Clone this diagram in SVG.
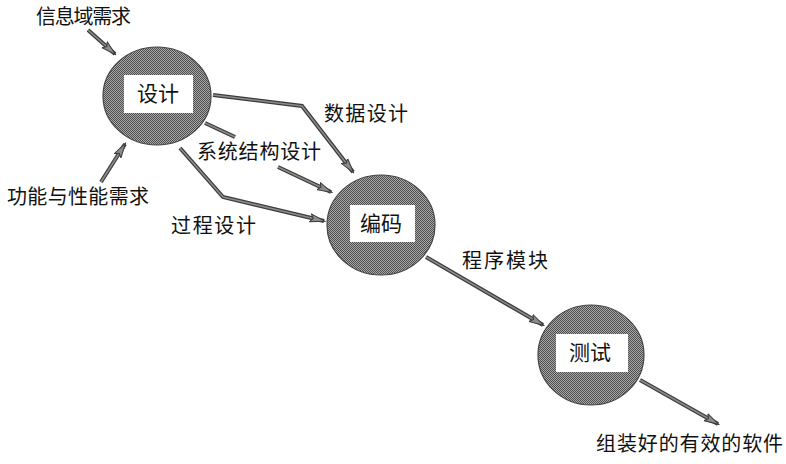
<svg xmlns="http://www.w3.org/2000/svg" width="786" height="464" viewBox="0 0 786 464">
<style>
text{font-family:"Noto Sans CJK SC","Noto Sans CJK TC",sans-serif;font-size:20px;fill:#111}
.lbl{text-anchor:middle;font-size:21px}
.node{fill:url(#dither);stroke:#444;stroke-width:1.2}
.box{fill:#fff;stroke:none}
.edge{fill:none;stroke:#3a3a3a;stroke-width:4;stroke-linejoin:miter}
.edgei{fill:none;stroke:#8c8c8c;stroke-width:1.6;stroke-linejoin:miter}
</style>
<defs>
<pattern id="dither" width="2" height="2" patternUnits="userSpaceOnUse">
<rect width="2" height="2" fill="#a8a8a8"/>
<rect width="1" height="1" fill="#4e4e4e"/>
<rect x="1" y="1" width="1" height="1" fill="#4e4e4e"/>
</pattern>
<marker id="ah" markerUnits="userSpaceOnUse" markerWidth="16" markerHeight="10" refX="14" refY="5" orient="auto">
<path d="M0,1 L15,5 L0,9 L3,5 z" fill="#8c8c8c" stroke="#3a3a3a" stroke-width="1"/>
</marker>
</defs>
<g id="connectors">
<g>
<line class="edge" x1="88" y1="30" x2="115" y2="54"/>
<line class="edgei" x1="88" y1="30" x2="115" y2="54" marker-end="url(#ah)"/>
</g>
<g>
<line class="edge" x1="101" y1="182" x2="125" y2="144"/>
<line class="edgei" x1="101" y1="182" x2="125" y2="144" marker-end="url(#ah)"/>
</g>
<g>
<polyline class="edge" points="213,95 302,106 353,172"/>
<polyline class="edgei" points="213,95 302,106 353,172" marker-end="url(#ah)"/>
</g>
<g>
<line class="edge" x1="205" y1="123" x2="235" y2="137"/>
<line class="edgei" x1="205" y1="123" x2="235" y2="137"/>
<line class="edge" x1="278" y1="167" x2="331" y2="192"/>
<line class="edgei" x1="278" y1="167" x2="331" y2="192" marker-end="url(#ah)"/>
</g>
<g>
<polyline class="edge" points="180,148 223,197 324,221"/>
<polyline class="edgei" points="180,148 223,197 324,221" marker-end="url(#ah)"/>
</g>
<g>
<line class="edge" x1="426" y1="257" x2="543" y2="325"/>
<line class="edgei" x1="426" y1="257" x2="543" y2="325" marker-end="url(#ah)"/>
</g>
<g>
<line class="edge" x1="640" y1="380" x2="718" y2="424"/>
<line class="edgei" x1="640" y1="380" x2="718" y2="424" marker-end="url(#ah)"/>
</g>
</g>
<g id="node-design">
<ellipse class="node" cx="157" cy="96" rx="54" ry="49"/>
<rect class="box" x="124" y="75" width="69" height="38"/>
<text class="lbl" x="158" y="101">设计</text>
</g>
<g id="node-code">
<ellipse class="node" cx="381" cy="225" rx="54" ry="50"/>
<rect class="box" x="350" y="205" width="65" height="37"/>
<text class="lbl" x="381" y="231">编码</text>
</g>
<g id="node-test">
<ellipse class="node" cx="591" cy="355" rx="53" ry="50"/>
<rect class="box" x="556" y="334" width="72" height="38"/>
<text class="lbl" x="590" y="360">测试</text>
</g>
<g id="labels">
<text x="36" y="24" textLength="95">信息域需求</text>
<text x="7" y="204" textLength="142">功能与性能需求</text>
<text x="324" y="121" textLength="84">数据设计</text>
<text x="197" y="159" textLength="124">系统结构设计</text>
<text x="171" y="233" textLength="85">过程设计</text>
<text x="462" y="268" textLength="86">程序模块</text>
<text x="596" y="451" textLength="187">组装好的有效的软件</text>
</g>
</svg>
